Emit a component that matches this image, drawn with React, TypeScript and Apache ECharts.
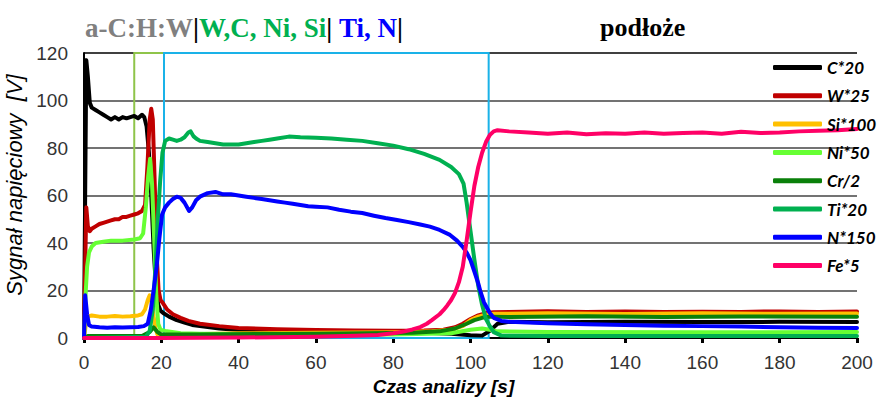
import React, { useEffect, useRef } from "react";
import * as echarts from "echarts";

// Tick values
const xTicks = [0, 20, 40, 60, 80, 100, 120, 140, 160, 180, 200];
const yTicks = [0, 20, 40, 60, 80, 100, 120];

// Series names and colours
const seriesNames = ["C*20", "W*25", "Si*100", "Ni*50", "Cr/2", "Ti*20", "N*150", "Fe*5"];
const seriesColors = ["#000000", "#c00000", "#ffc000", "#66ff33", "#0a800a", "#00b050", "#0000ff", "#ff0066"];

// [time s, signal V] pairs
const c20 = [[0,0],[0.3,60],[0.6,117],[1.0,110],[1.5,99],[2,97],[3,96],[4,95],[5,94],[6,93],[7,92],[8,93],[9,92],[10,93],[11,92.5],[12,93],[13,93.5],[14,92.5],[15,94],[15.6,93],[16.2,89],[16.8,78],[17.4,60],[18,38],[18.6,22],[19.2,14],[19.8,11.5],[20.5,10.5],[22,9],[24,7.5],[26,6.5],[28,5.5],[30,5],[35,4],[40,3.4],[50,2.8],[60,2.5],[70,2.3],[80,2.2],[90,2.1],[95,1.8],[100,1.2],[103,1],[105,3],[107,6],[110,6.8],[120,6.6],[140,6.8],[160,6.7],[180,6.8],[200,6.7]];
const w25 = [[0,0],[0.3,30],[0.6,55],[1,47],[1.5,45],[2,46],[3,47],[4,48],[5,48.5],[6,49],[7,49.5],[8,50],[9,50],[10,51],[11,51],[12,51.5],[13,52],[14,52.5],[15,53.5],[15.8,56],[16.4,72],[17,92],[17.4,96.5],[17.8,92],[18.3,65],[18.8,35],[19.3,20],[19.8,16],[20.5,14.5],[21.5,12],[23,10],[25,8.5],[27,7.2],[30,6],[35,5],[40,4.2],[50,3.7],[60,3.4],[70,3.2],[80,3.1],[88,3.2],[93,3.5],[96,4.5],[98,6],[100,8],[102,9.5],[104,10.5],[106,10.8],[110,11],[120,11.3],[130,11],[140,11.2],[150,10.9],[160,11.1],[170,11],[180,11.2],[190,11],[200,11.2]];
const si100 = [[0,0],[0.5,6],[1,9],[2,9.5],[4,9],[6,9],[8,9.3],[10,9],[12,9.2],[14,9.5],[15,10],[15.8,12],[16.5,16],[17,18],[17.5,15],[18,9],[18.5,4],[19,1.5],[20,1.2],[25,1.5],[40,2],[60,2.2],[80,2.4],[90,2.8],[95,3.5],[98,5],[100,7.5],[102,9],[104,9.8],[106,10.2],[120,10.4],[140,10.1],[160,10.4],[180,10.2],[200,10.3]];
const ni50 = [[0,0],[0.4,18],[0.8,30],[1.3,36],[2,38.5],[3,40],[5,40.5],[7,41],[10,41],[13,41.5],[14.5,42],[15.3,44],[16,55],[16.6,68],[17.1,75.5],[17.6,65],[18.2,40],[18.7,18],[19.2,6],[19.8,3.5],[21,3],[25,2],[30,1.8],[50,1.5],[80,1.5],[95,2],[100,3.5],[103,4],[105,3.5],[107,2.8],[120,2.5],[160,2.4],[200,2.5]];
const cr2 = [[0,0],[1,0.8],[15,0.8],[17,2.5],[18,4.5],[19,2.5],[20,1.5],[30,1.5],[60,1.8],[85,2.2],[92,2.8],[96,4],[99,6],[101,7.5],[103,8.5],[105,9],[110,8.8],[130,9.2],[150,8.8],[170,9.1],[200,8.9]];
const ti20 = [[0,0],[16,0.5],[17,3],[17.8,12],[18.5,30],[19.1,50],[19.7,66],[20.3,78],[21,83],[22,84],[23,83.5],[24,83],[25,83.5],[26,84.5],[27,86.5],[27.6,87],[28.3,85],[29,84],[30,83],[32,82.5],[34,82],[36,81.5],[38,81.5],[40,81.5],[42,82],[44,82.5],[46,83],[48,83.5],[50,84],[53,84.8],[56,84.5],[60,84.3],[64,84],[68,83.5],[72,83],[76,82],[80,81],[84,79.5],[88,77.5],[92,75],[95,72],[97,69],[98.2,65],[99,57],[100,45],[101,33],[102,22],[103,14],[104,8],[105,5],[106,2.5],[108,1],[120,0.8],[200,0.8]];
const n150 = [[0,0],[0.3,18],[0.8,10],[1.3,5.5],[2,4.8],[4,4.5],[6,4.3],[8,4.5],[10,4.4],[12,4.5],[14,4.6],[15.5,5],[16.5,6],[17.3,12],[18,20],[18.8,30],[19.5,42],[20.2,52],[21,55],[22,57],[23,58.5],[24,59.5],[25,59],[26,57],[27.2,53.5],[28,55],[29,58],[30,59.5],[32,61],[34,61.5],[36,60.5],[38,60.5],[40,60],[42,59.5],[44,59],[46,58.5],[48,58],[50,57.5],[52,57],[54,56.5],[56,56],[58,55.5],[60,55.3],[63,55],[66,54],[69,53.2],[72,52.6],[75,51.5],[78,50.5],[81,49.7],[84,48.8],[87,47.8],[89.5,46.9],[92,45.5],[94.7,43.4],[96.5,41],[98,38.4],[99,36],[100,32.8],[101,28],[102,23],[102.5,20],[103.5,15],[105,10.5],[106,8.5],[108,7.2],[110,6.8],[120,6.2],[130,5.8],[140,5.5],[150,5.2],[160,5],[170,4.8],[180,4.5],[190,4.3],[200,4.2]];
const fe5 = [[0,0],[20,0],[40,0.2],[60,0.5],[70,0.9],[76,1.3],[80,2],[83,2.8],[85,3.6],[87,4.6],[88.7,6],[90,7.5],[92,10],[93,11.7],[94,13.7],[95,16],[96,19],[97,23.5],[98,30],[99,41],[100,53],[101,64],[102,72],[103,78],[104,82.5],[105,85.5],[106,87],[107,87.5],[110,87],[115,86.5],[120,86],[125,86.5],[130,85.8],[135,86.2],[140,86],[145,86.5],[150,86],[155,86.3],[160,86.5],[165,86],[170,86.8],[175,86.3],[180,86.5],[185,87],[190,87.3],[195,87.5],[200,88]];

const seriesData = [c20, w25, si100, ni50, cr2, ti20, n150, fe5];

// Layer boundaries (s)
const greenBox = [13, 20.7];
const blueBox = [20.7, 104.7];

export default function App() {
  const ref = useRef<HTMLDivElement>(null);
  useEffect(() => {
    const chart = echarts.init(ref.current!, null, { renderer: "svg" });
    const lines = seriesNames.map((name, i) => ({
      name,
      type: "line",
      data: seriesData[i],
      showSymbol: false,
      symbol: "none",
      color: seriesColors[i],
      lineStyle: { width: 4, color: seriesColors[i], cap: "round", join: "round" },
      z: 2 + i * 0.01,
    }));
    const boxes = {
      type: "line",
      data: [],
      silent: true,
      z: 4,
      markArea: {
        silent: true,
        label: { show: false },
        data: [
          [
            { xAxis: greenBox[0], yAxis: yTicks[0], itemStyle: { color: "rgba(0,0,0,0)", borderColor: "#8fc44a", borderWidth: 2 } },
            { xAxis: greenBox[1], yAxis: yTicks[yTicks.length - 1] },
          ],
          [
            { xAxis: blueBox[0], yAxis: yTicks[0], itemStyle: { color: "rgba(0,0,0,0)", borderColor: "#1ab2e8", borderWidth: 2 } },
            { xAxis: blueBox[1], yAxis: yTicks[yTicks.length - 1] },
          ],
        ],
      },
    };
    chart.setOption({
      animation: false,
      backgroundColor: "#ffffff",
      title: [
        {
          left: 80,
          top: 9,
          text: "{g|a-C:H:W}{k||}{gr|W,C, Ni, Si}{k||} {b|Ti, N}{k||}",
          textStyle: {
            fontFamily: "Liberation Serif",
            fontWeight: "bold",
            fontSize: 27,
            rich: {
              g: { color: "#808080", fontFamily: "Liberation Serif", fontWeight: "bold", fontSize: 27 },
              k: { color: "#000000", fontFamily: "Liberation Serif", fontWeight: "bold", fontSize: 27 },
              gr: { color: "#00b050", fontFamily: "Liberation Serif", fontWeight: "bold", fontSize: 27 },
              b: { color: "#0000ff", fontFamily: "Liberation Serif", fontWeight: "bold", fontSize: 27 },
            },
          },
        },
        {
          left: 595,
          top: 9,
          text: "podłoże",
          textStyle: { fontFamily: "Liberation Serif", fontWeight: "bold", fontSize: 26, color: "#000" },
        },
      ],
      legend: {
        data: seriesNames,
        orient: "vertical",
        left: 773,
        top: 59,
        padding: 0,
        itemWidth: 49,
        itemHeight: 5,
        itemGap: 11.3,
        icon: "roundRect",
        textStyle: { fontFamily: "Lato", fontStyle: "italic", fontWeight: "bold", fontSize: 17, lineHeight: 17, color: "#000" },
      },
      grid: { left: 84, right: 24, top: 53, bottom: 62, containLabel: false, outerBoundsMode: "none" },
      xAxis: {
        type: "value",
        min: xTicks[0],
        max: xTicks[xTicks.length - 1],
        interval: 20,
        name: "Czas analizy [s]",
        nameLocation: "middle",
        nameGap: 38,
        nameTextStyle: { fontFamily: "Liberation Sans", fontStyle: "italic", fontWeight: "bold", fontSize: 19, color: "#000", padding: [0, 54, 0, 0] },
        axisLine: { show: true, lineStyle: { color: "#000", width: 2 } },
        axisTick: { show: true, inside: false, length: 5, lineStyle: { color: "#000", width: 3 } },
        axisLabel: { margin: 15, fontFamily: "Liberation Sans", fontSize: 19, color: "#333" },
        splitLine: { show: false },
      },
      yAxis: {
        type: "value",
        min: yTicks[0],
        max: yTicks[yTicks.length - 1],
        interval: 20,
        name: "Sygnał napięciowy  [V]",
        nameLocation: "middle",
        nameGap: 51,
        nameTextStyle: { fontFamily: "Liberation Sans", fontStyle: "italic", fontSize: 22, color: "#000", padding: [0, 0, 0, 21] },
        axisLine: { show: true, lineStyle: { color: "#000", width: 2 } },
        axisTick: { show: false },
        axisLabel: { margin: 16, fontFamily: "Liberation Sans", fontSize: 19, color: "#333" },
        splitLine: { show: true, lineStyle: { color: ["#000", "#444", "#444", "#444", "#444", "#444", "#000"], width: 1.5 } },
      },
      series: [...lines, boxes],
    });
    return () => chart.dispose();
  }, []);
  return <div ref={ref} style={{ position: "fixed", left: 0, top: 0, width: 881, height: 400 }} />;
}
